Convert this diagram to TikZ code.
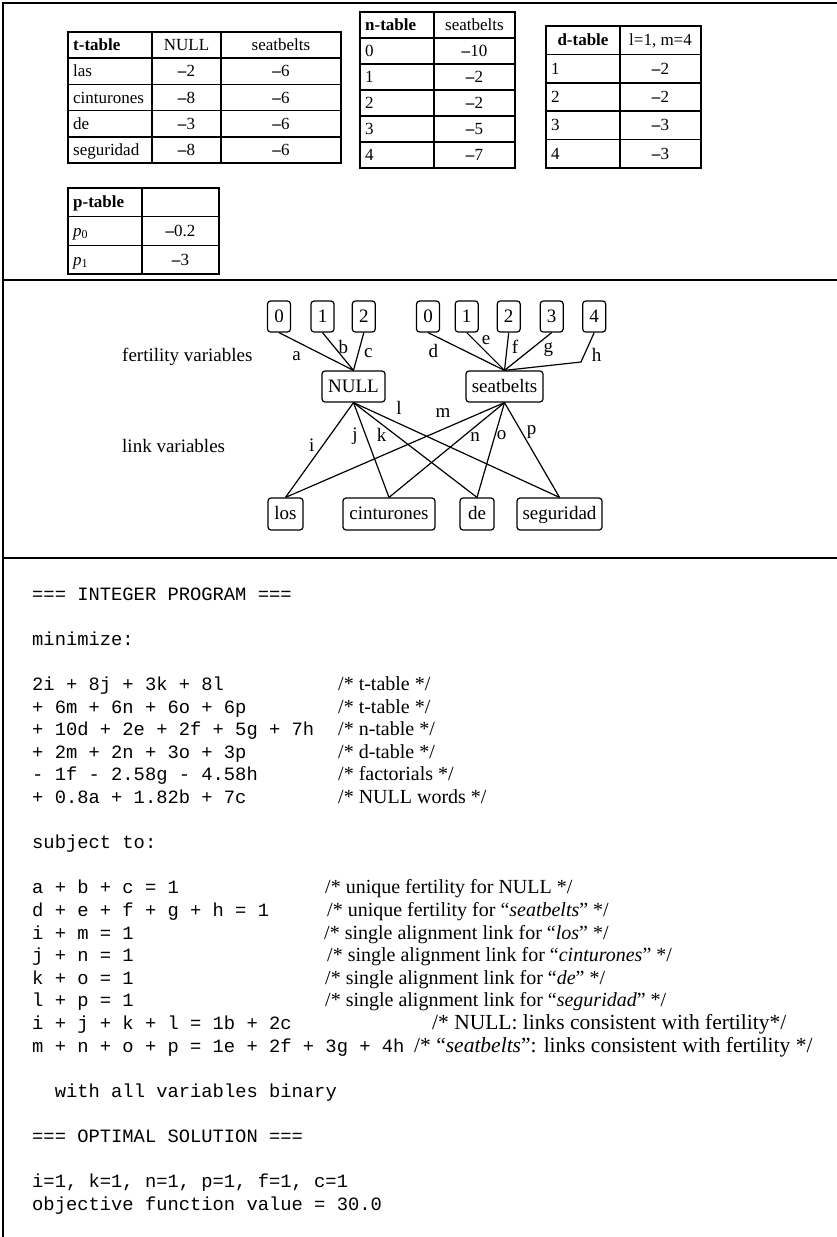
\documentclass[tikz,border=0pt]{standalone}
\usepackage{fontspec}
\setmainfont{Liberation Serif}
\setmonofont{Liberation Mono}
\newcommand{\mns}{\textbf{\textendash}}
\begin{document}
\begin{tikzpicture}[x=1pt,y=-1pt,
  frame/.style={line width=2.6pt},
  tab/.style={line width=1.5pt},
  tc/.style={font=\fontsize{17}{17}\selectfont, inner sep=0pt, anchor=base},
  tl/.style={font=\fontsize{17}{17}\selectfont, inner sep=0pt, anchor=base west},
  gbox/.style={draw, rounded corners=3pt, line width=1.2pt, inner sep=0pt,
    font=\fontsize{19}{19}\selectfont, text height=14pt, text depth=3pt},
  fbox/.style={gbox, minimum width=23pt, minimum height=31pt},
  wbox/.style={gbox, minimum height=31pt},
  edge/.style={line width=1.2pt},
  lbl/.style={font=\fontsize{19}{19}\selectfont, inner sep=0pt},
  gtxt/.style={font=\fontsize{19}{19}\selectfont, inner sep=0pt, anchor=base west},
  code/.style={font=\fontsize{18.8}{18.8}\ttfamily, inner sep=0pt, anchor=base west},
  cmt/.style={font=\fontsize{20}{20}\selectfont, inner sep=0pt, anchor=base west},
  cmtb/.style={font=\fontsize{21.5}{21.5}\selectfont, inner sep=0pt, anchor=base west}]
\useasboundingbox (0,0) rectangle (837,1237);
\fill[white] (0,0) rectangle (837,1237);

% frame
\draw[frame] (837,3) -- (3,3) -- (3,1237);
\draw[frame] (3,280) -- (837,280);
\draw[frame] (3,558) -- (837,558);

% ---------- t-table ----------
\draw[tab] (68,32) rectangle (341,163);
\draw[tab] (152,32) -- (152,163) (221,32) -- (221,163);
\foreach \yy in {58.2,84.4,110.6,136.8} \draw[tab] (68,\yy) -- (341,\yy);
\node[tl] (th1) at (73,50.6) {\textbf{t-table}};
\node[tc] (th2) at (186.5,50.6) {NULL};
\node[tc] (th3) at (281,50.6) {seatbelts};
\foreach \r/\a/\b [count=\i] in {las/2/6, cinturones/8/6, de/3/6, seguridad/8/6} {
  \pgfmathsetmacro\yy{76.8+26.2*(\i-1)}
  \node[tl] (tw\i) at (73,\yy) {\r};
  \node[tc] (ta\i) at (186.5,\yy) {\mns\a};
  \node[tc] (tb\i) at (281,\yy) {\mns\b};
}

% ---------- n-table ----------
\draw[tab] (360,12) rectangle (515,168);
\draw[tab] (434,12) -- (434,168);
\foreach \yy in {38,64,90,116,142} \draw[tab] (360,\yy) -- (515,\yy);
\node[tl] (nh1) at (365,30.5) {\textbf{n-table}};
\node[tc] (nh2) at (474.5,30.5) {seatbelts};
\foreach \k/\v [count=\i] in {0/10, 1/2, 2/2, 3/5, 4/7} {
  \pgfmathsetmacro\yy{56.5+26*(\i-1)}
  \node[tl] (nk\i) at (365,\yy) {\k};
  \node[tc] (nv\i) at (474.5,\yy) {\mns\v};
}

% ---------- d-table ----------
\draw[tab] (546,26) rectangle (701,168);
\draw[tab] (620,26) -- (620,168);
\foreach \yy in {54.4,82.8,111.2,139.6} \draw[tab] (546,\yy) -- (701,\yy);
\node[tc] (dh1) at (583,45.7) {\textbf{d-table}};
\node[tc] (dh2) at (660.5,45.7) {l=1, m=4};
\foreach \k/\v [count=\i] in {1/2, 2/2, 3/3, 4/3} {
  \pgfmathsetmacro\yy{74.1+28.4*(\i-1)}
  \node[tl] (dk\i) at (551,\yy) {\k};
  \node[tc] (dv\i) at (660.5,\yy) {\mns\v};
}

% ---------- p-table ----------
\draw[tab] (68,188) rectangle (219,274);
\draw[tab] (142,188) -- (142,274);
\draw[tab] (68,216.7) -- (219,216.7) (68,245.3) -- (219,245.3);
\node[tl] (ph1) at (73,207.8) {\textbf{p-table}};
\node[tl] (pk1) at (73,236.5) {\textit{p}\raisebox{-0.25ex}{\fontsize{12}{12}\selectfont 0}};
\node[tc] (pv1) at (180.5,236.5) {\mns0.2};
\node[tl] (pk2) at (73,265.2) {\textit{p}\raisebox{-0.25ex}{\fontsize{12}{12}\selectfont 1}};
\node[tc] (pv2) at (180.5,265.2) {\mns3};

% ---------- graph ----------
\node[gtxt] (fertlbl) at (122,361) {fertility variables};
\node[gtxt] (linklbl) at (122,452) {link variables};

\node[fbox] (a0) at (279,316.5) {0};
\node[fbox] (a1) at (322.5,316.5) {1};
\node[fbox] (a2) at (363.8,316.5) {2};
\node[fbox] (b0) at (428,316.5) {0};
\node[fbox] (b1) at (466.7,316.5) {1};
\node[fbox] (b2) at (508.7,316.5) {2};
\node[fbox] (b3) at (551.7,316.5) {3};
\node[fbox] (b4) at (594.2,316.5) {4};

\node[wbox, minimum width=63pt] (null) at (353.5,386.5) {NULL};
\node[wbox, minimum width=77pt] (seat) at (504.5,386.5) {seatbelts};

\node[wbox, minimum width=35pt, minimum height=32pt] (los) at (285.5,514) {los};
\node[wbox, minimum width=92pt, minimum height=32pt] (cin) at (389,514) {cinturones};
\node[wbox, minimum width=34pt, minimum height=32pt] (de) at (477,514) {de};
\node[wbox, minimum width=85pt, minimum height=32pt] (seg) at (559.5,514) {seguridad};

\foreach \f in {a0,a1,a2} \draw[edge] (\f.south) -- (null.north);
\foreach \f in {b0,b1,b2,b3} \draw[edge] (\f.south) -- (seat.north);
\coordinate (hbend) at (581,362);
\draw[edge] (b4.south) -- (hbend) -- (seat.north);

\foreach \w in {los,cin,de,seg} {
  \draw[edge] (null.south) -- (\w.north);
  \draw[edge] (seat.south) -- (\w.north);
}

\node[lbl] (la) at (296.7,356) {a};
\node[lbl] (lb) at (343.3,346.7) {b};
\node[lbl] (lc) at (368.3,352.7) {c};
\node[lbl] (ld) at (433.3,350.7) {d};
\node[lbl] (le) at (486,340) {e};
\node[lbl] (lf) at (515,346.7) {f};
\node[lbl] (lg) at (548.3,350) {g};
\node[lbl] (lh) at (596.7,355) {h};
\node[lbl] (li) at (311.7,445) {i};
\node[lbl] (lj) at (355,436.7) {j};
\node[lbl] (lk) at (381.7,435) {k};
\node[lbl] (ll) at (399,408) {l};
\node[lbl] (lm) at (443,413) {m};
\node[lbl] (ln) at (475,436.7) {n};
\node[lbl] (lo) at (501.7,435) {o};
\node[lbl] (lp) at (531.7,431.7) {p};

% ---------- integer program ----------
\node[code] (c0) at (32,600) {=== INTEGER PROGRAM ===};
\node[code] (c2) at (32,645.2) {minimize:};
\node[code] (c4) at (32,690.4) {2i + 8j + 3k + 8l};
\node[code] (c5) at (32,713) {+ 6m + 6n + 6o + 6p};
\node[code] (c6) at (32,735.6) {+ 10d + 2e + 2f + 5g + 7h};
\node[code] (c7) at (32,758.2) {+ 2m + 2n + 3o + 3p};
\node[code] (c8) at (32,780.8) {- 1f - 2.58g - 4.58h};
\node[code] (c9) at (32,803.4) {+ 0.8a + 1.82b + 7c};
\node[cmt] (k4) at (338,690.4) {/* t-table */};
\node[cmt] (k5) at (338,713) {/* t-table */};
\node[cmt] (k6) at (338,735.6) {/* n-table */};
\node[cmt] (k7) at (338,758.2) {/* d-table */};
\node[cmt] (k8) at (338,780.8) {/* factorials */};
\node[cmt] (k9) at (338,803.4) {/* NULL words */};

\node[code] (c11) at (32,848.6) {subject to:};
\node[code] (c13) at (32,893.8) {a + b + c = 1};
\node[code] (c14) at (32,916.4) {d + e + f + g + h = 1};
\node[code] (c15) at (32,939) {i + m = 1};
\node[code] (c16) at (32,961.6) {j + n = 1};
\node[code] (c17) at (32,984.2) {k + o = 1};
\node[code] (c18) at (32,1006.8) {l + p = 1};
\node[code] (c19) at (32,1029.4) {i + j + k + l = 1b + 2c};
\node[code] (c20) at (32,1052) {m + n + o + p = 1e + 2f + 3g + 4h};
\node[cmt] (k13) at (325,893.8) {/* unique fertility for NULL */};
\node[cmt] (k14) at (327,916.4) {/* unique fertility for “\textit{seatbelts}” */};
\node[cmt] (k15) at (324,939) {/* single alignment link for “\textit{los}” */};
\node[cmt] (k16) at (327,961.6) {/* single alignment link for “\textit{cinturones}” */};
\node[cmt] (k17) at (325,984.2) {/* single alignment link for “\textit{de}” */};
\node[cmt] (k18) at (325,1006.8) {/* single alignment link for “\textit{seguridad}” */};
\node[cmtb] (k19) at (432,1029.4) {/* NULL: links consistent with fertility*/};
\node[cmtb] (k20) at (414,1052) {/* “\textit{seatbelts}”: links consistent with fertility */};

\node[code] (c22) at (54.6,1097.2) {with all variables binary};
\node[code] (c24) at (32,1142.4) {=== OPTIMAL SOLUTION ===};
\node[code] (c26) at (32,1187.6) {i=1, k=1, n=1, p=1, f=1, c=1};
\node[code] (c27) at (32,1210.2) {objective function value = 30.0};
\end{tikzpicture}
\end{document}
